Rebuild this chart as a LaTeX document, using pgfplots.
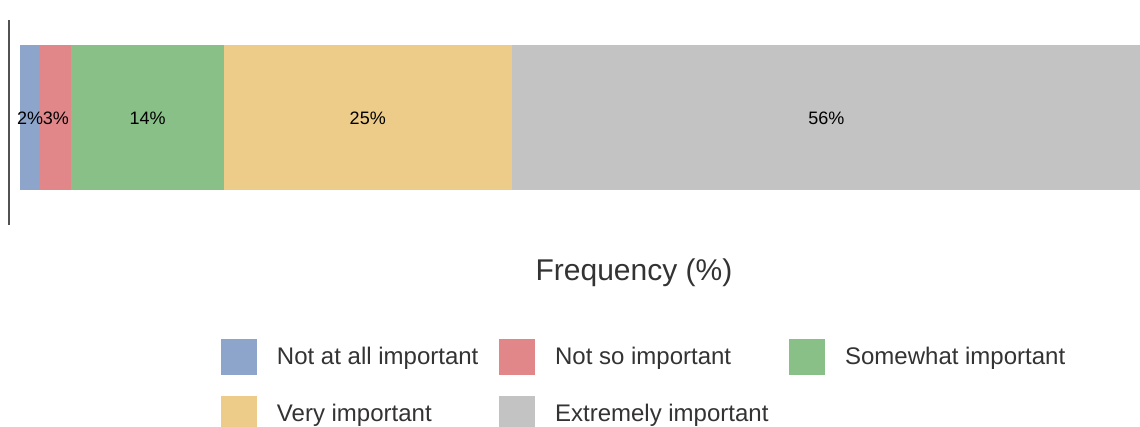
\documentclass[border=0pt]{standalone}
\usepackage{pgfplots}
\pgfplotsset{compat=1.18}
\usepackage{fontspec}
\setmainfont{Liberation Sans}
\definecolor{cA}{HTML}{8DA5CB}
\definecolor{cB}{HTML}{E1878A}
\definecolor{cC}{HTML}{89C087}
\definecolor{cD}{HTML}{EDCB89}
\definecolor{cE}{HTML}{C3C3C3}
\definecolor{txt}{HTML}{333333}
\begin{document}
\begin{tikzpicture}
\begin{axis}[
  scale only axis, width=848.25pt, height=153.75pt,
  xbar stacked, bar width=1.45,
  xmin=-0.982, xmax=100, ymin=-1.075, ymax=0.975,
  clip=false,
  axis lines*=left, x axis line style={draw=none},
  y axis line style={-, draw=txt!85, line width=1.8pt},
  xtick=\empty, ytick=\empty,
  xlabel={Frequency (\%)},
  xlabel style={at={(axis description cs:0.5526,0)}, anchor=base, yshift=-42pt,
    font=\fontsize{22.5}{27}\selectfont, text=txt, inner sep=0pt},
  legend columns=3, legend cell align=left,
  legend style={draw=none, at={(0.18744,-0.5561)}, anchor=north west,
    inner sep=0pt, outer sep=0pt, font=\fontsize{18}{21.6}\selectfont, text=txt,
    row sep=15.75pt, column sep=0pt,
    /tikz/every even column/.append style={column sep=15.5pt},
    nodes={inner sep=0pt}},
  legend image code/.code={\fill[#1] (0pt,-13.5pt) rectangle (27pt,13.5pt); \path (42pt,0pt);},
]
\addplot[fill=cA, draw=none] coordinates {(1.8,0)};
\addlegendentry{Not at all important}
\addplot[fill=cB, draw=none] coordinates {(2.75,0)};
\addlegendentry{Not so important}
\addplot[fill=cC, draw=none] coordinates {(13.65,0)};
\addlegendentry{Somewhat important}
\addplot[fill=cD, draw=none] coordinates {(25.7,0)};
\addlegendentry{Very important}
\addplot[fill=cE, draw=none] coordinates {(56.1,0)};
\addlegendentry{Extremely important}
\coordinate (l1) at (axis cs:0.9,-0.01);
\coordinate (l2) at (axis cs:3.2,-0.01);
\coordinate (l3) at (axis cs:11.4,-0.01);
\coordinate (l4) at (axis cs:31.05,-0.01);
\coordinate (l5) at (axis cs:72.0,-0.01);
\coordinate (bl) at (rel axis cs:0,0);
\end{axis}
\begin{scope}[every node/.style={font=\fontsize{13.5}{16}\selectfont, inner sep=0pt, text=black}]
\node at (l1) {2\%};
\node at (l2) {3\%};
\node at (l3) {14\%};
\node at (l4) {25\%};
\node at (l5) {56\%};
\end{scope}
\pgfresetboundingbox
\path[use as bounding box] ([shift={(-6.75pt,-151.5pt)}]bl) rectangle ([shift={(848.25pt,168.75pt)}]bl);
\end{tikzpicture}
\end{document}
